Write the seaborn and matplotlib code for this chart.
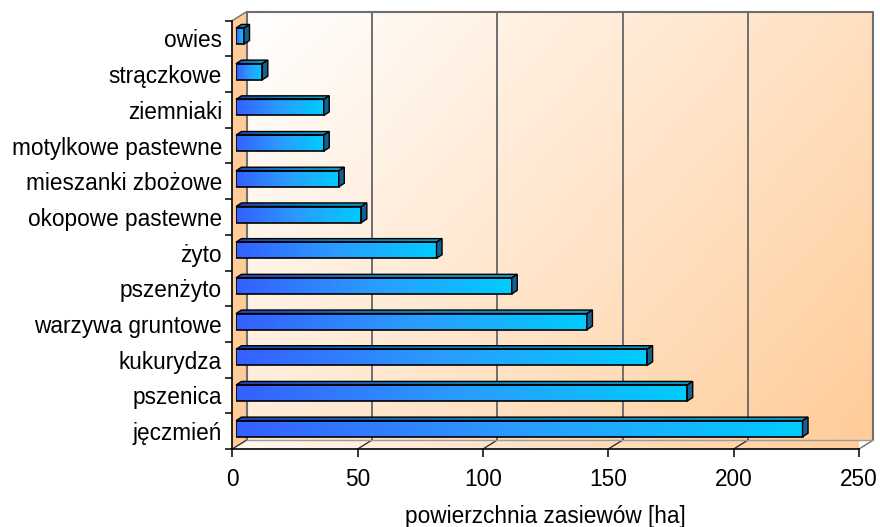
import numpy as np
import matplotlib
matplotlib.use("Agg")
import matplotlib.pyplot as plt
import matplotlib.font_manager as fm
import seaborn as sns
from matplotlib.colors import LinearSegmentedColormap, to_rgb
from matplotlib.patches import Polygon

# Sown area by crop, top to bottom
crops = ["owies", "strączkowe", "ziemniaki", "motylkowe pastewne",
         "mieszanki zbożowe", "okopowe pastewne", "żyto", "pszenżyto",
         "warzywa gruntowe", "kukurydza", "pszenica", "jęczmień"]
area_ha = [3.2, 10.5, 35, 35, 41, 50, 80, 110, 140, 164, 180, 226]
x_ticks = [0, 50, 100, 150, 200, 250]
x_label = "powierzchnia zasiewów [ha]"

sns.set_style("white")

# keep the regular-width Liberation Sans (drop the Narrow cut from the lookup)
fm.fontManager.ttflist = [f for f in fm.fontManager.ttflist
                          if "narrow" not in f.fname.lower()]
plt.rcParams["font.family"] = ["Liberation Sans", "DejaVu Sans"]
for key in ("text.color", "axes.labelcolor", "xtick.color", "ytick.color"):
    plt.rcParams[key] = "black"
FS = 16.3

W, H = 880, 527
fig = plt.figure(figsize=(W / 100, H / 100), dpi=100)


def frac(x_px, y_top_px, w_px, h_px):
    return [x_px / W, (H - y_top_px - h_px) / H, w_px / W, h_px / H]


def px_to_data(ax, dx, dy):
    """Convert a pixel offset (right, up) into a data offset on ax."""
    x0, y0 = ax.transData.transform((0, 0))
    p = ax.transData.inverted().transform((x0 + dx, y0 + dy))
    return p[0], p[1]


PLANE_W, PLANE_H = 626.7, 428.4
XMAX = x_ticks[-1]
YLIM = (len(crops) - 0.5, -0.5)

# front plane carries the axes; bars sit a little deeper in the box
ax_front = fig.add_axes(frac(232.3, 20.6, PLANE_W, PLANE_H))
ax_bar = fig.add_axes(frac(236.0, 18.2, PLANE_W, PLANE_H))
ax_front.set_zorder(0)
ax_bar.set_zorder(1)

for ax in (ax_front, ax_bar):
    ax.set_xlim(0, XMAX)
    ax.set_ylim(*YLIM)

ax_front.patch.set_visible(False)

# ---- box walls -------------------------------------------------------------
bx, by = px_to_data(ax_front, 14.4, 9.0)
ybot, ytop = YLIM
peach = np.array(to_rgb("#ffcc99"))
white = np.array([1.0, 1.0, 1.0])

# back wall with diagonal white-to-peach shading
nx, ny = 300, 200
u = np.linspace(0, 1, nx)[None, :]
v = np.linspace(0, 1, ny)[:, None]
t = np.clip(0.62 * u + 0.38 * v, 0, 1)
wall = white[None, None, :] * (1 - t[..., None]) + peach[None, None, :] * t[..., None]
im = ax_front.imshow(wall, extent=[bx, XMAX + bx, ybot + by, ytop + by],
                     aspect="auto", origin="upper", zorder=0.1, interpolation="bilinear")
im.set_clip_on(False)

# floor
floor_pts = [(0, ybot), (XMAX, ybot), (XMAX + bx, ybot + by), (bx, ybot + by)]
floor = Polygon(floor_pts, closed=True, facecolor="none", edgecolor="none", clip_on=False)
ax_front.add_patch(floor)
tf = np.clip(0.15 + 0.85 * u, 0, 1)
tf = np.repeat(tf, 20, axis=0)
fl = white[None, None, :] * (1 - tf[..., None]) + peach[None, None, :] * tf[..., None]
imf = ax_front.imshow(fl, extent=[0, XMAX + bx, ybot, ybot + by], aspect="auto",
                      origin="upper", zorder=0.2, interpolation="bilinear")
imf.set_clip_path(floor)

# left side wall
side_pts = [(0, ybot), (bx, ybot + by), (bx, ytop + by), (0, ytop)]
ax_front.add_patch(Polygon(side_pts, closed=True, facecolor="#ffcc99",
                           edgecolor="none", clip_on=False, zorder=0.3))

grid_c = "#6e6e6e"
for val in x_ticks[1:-1]:
    ax_front.plot([val + bx, val + bx], [ybot + by, ytop + by], color=grid_c,
                  lw=1.4, clip_on=False, zorder=0.5)
for val in x_ticks:
    ax_front.plot([val, val + bx], [ybot, ybot + by], color="#333333" if val < XMAX else grid_c,
                  lw=1.0, clip_on=False, zorder=0.5)
# wall outlines
ax_front.plot([bx, bx, XMAX + bx, XMAX + bx], [ybot + by, ytop + by, ytop + by, ybot + by],
              color=grid_c, lw=1.5, clip_on=False, zorder=0.6)
ax_front.plot([bx, XMAX + bx], [ybot + by, ybot + by], color="#9a9a9a", lw=1.0,
              clip_on=False, zorder=0.6)
ax_front.plot([0, bx], [ytop, ytop + by], color=grid_c, lw=1.0, clip_on=False, zorder=0.6)

# ---- axes of the front plane ---------------------------------------------
for side in ("top", "right"):
    ax_front.spines[side].set_visible(False)
for side in ("left", "bottom"):
    ax_front.spines[side].set_color("black")
    ax_front.spines[side].set_linewidth(1.2)
    ax_front.spines[side].set_zorder(3)

ax_front.set_xticks(x_ticks)
ax_front.set_xticklabels([str(t_) for t_ in x_ticks], fontsize=FS)
ax_front.tick_params(axis="x", direction="out", length=6, width=1.1, color="black",
                     pad=8, bottom=True)
ax_front.set_yticks(range(len(crops)))
ax_front.set_yticklabels(crops, fontsize=FS)
ax_front.set_yticks(np.arange(-0.5, len(crops), 1.0), minor=True)
ax_front.tick_params(axis="y", which="major", length=0, pad=7.5, left=True)
ax_front.tick_params(axis="y", which="minor", direction="out", length=5, width=1.1,
                     color="black", left=True)
ax_front.set_xlabel(x_label, fontsize=FS, labelpad=10)
ax_front.set_ylabel("")
ax_front.grid(False)

# ---- bars ------------------------------------------------------------------
sns.barplot(x=area_ha, y=crops, orient="h", width=0.45, ax=ax_bar,
            color="#3366ff", saturation=1)
ax_bar.set_xlim(0, XMAX)
ax_bar.set_ylim(*YLIM)
ax_bar.set_axis_off()

front_cmap = LinearSegmentedColormap.from_list("front", ["#3560ff", "#2a9cff", "#00ccff"])
top_cmap = LinearSegmentedColormap.from_list("top", ["#2244b0", "#0e7fb8", "#0a9ac4"])
grad = np.linspace(0, 1, 256)[None, :]

ddx, ddy = px_to_data(ax_bar, 5.5, 3.6)
for patch in list(ax_bar.patches):
    x0, y0 = patch.get_x(), patch.get_y()
    w, h = patch.get_width(), patch.get_height()
    patch.set_facecolor("none")
    patch.set_edgecolor("black")
    patch.set_linewidth(1.2)
    patch.set_zorder(3)
    img = ax_bar.imshow(grad, extent=[x0, x0 + w, y0 + h, y0], aspect="auto",
                        cmap=front_cmap, zorder=2, interpolation="bilinear")
    img.set_clip_path(patch)

    top = Polygon([(x0, y0), (x0 + w, y0), (x0 + w + ddx, y0 + ddy), (x0 + ddx, y0 + ddy)],
                  closed=True, facecolor="none", edgecolor="black", lw=1.0,
                  clip_on=False, zorder=3)
    ax_bar.add_patch(top)
    timg = ax_bar.imshow(grad, extent=[x0, x0 + w + ddx, y0, y0 + ddy], aspect="auto",
                         cmap=top_cmap, zorder=2, interpolation="bilinear")
    timg.set_clip_path(top)

    ax_bar.add_patch(Polygon([(x0 + w, y0), (x0 + w + ddx, y0 + ddy),
                              (x0 + w + ddx, y0 + h + ddy), (x0 + w, y0 + h)],
                             closed=True, facecolor="#14608e", edgecolor="black",
                             lw=1.0, clip_on=False, zorder=3))

ax_bar.set_xlim(0, XMAX)
ax_bar.set_ylim(*YLIM)
ax_front.set_xlim(0, XMAX)
ax_front.set_ylim(*YLIM)

fig.savefig("out.png", dpi=100, facecolor="white")
